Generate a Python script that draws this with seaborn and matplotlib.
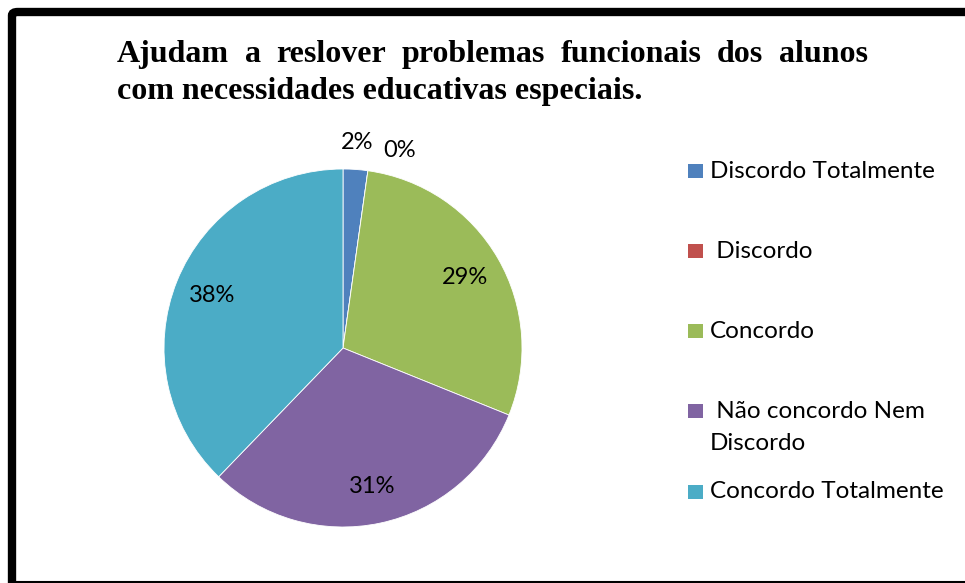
import matplotlib
matplotlib.use("Agg")
import matplotlib.pyplot as plt
import seaborn as sns
import numpy as np
from matplotlib.patches import Rectangle, FancyBboxPatch

# ---- data ----
categories = ["Discordo Totalmente", " Discordo", "Concordo",
              " Não concordo Nem\nDiscordo", "Concordo Totalmente"]
counts = [1, 0, 13, 14, 17]
colors = ["#4F81BD", "#C0504D", "#9BBB59", "#8064A2", "#4BACC6"]
title_line1 = "Ajudam a reslover problemas funcionais dos alunos"
title_line2 = "com necessidades educativas especiais."

sns.set_theme(style="white")
plt.rcParams["font.family"] = ["Lato", "DejaVu Sans"]

W, H, DPI = 965, 583, 100
fig = plt.figure(figsize=(W / DPI, H / DPI), dpi=DPI)
fig.patch.set_facecolor("white")

def fx(px):
    return px / W

def fy(py):
    return 1 - py / H

# ---- outer frame (thick left/top, thin bottom) ----
frame = FancyBboxPatch((fx(12), fy(700)), fx(1200), (700 - 12) / H,
                       boxstyle="round,pad=0,rounding_size=0.006",
                       transform=fig.transFigure, fill=False,
                       edgecolor="black", linewidth=6, clip_on=True)
fig.patches.append(frame)
fig.add_artist(plt.Line2D([fx(12), 1], [fy(582), fy(582)],
                          transform=fig.transFigure, color="black", lw=1.5))

# ---- pie ----
cx, cy, R = 343, 348, 179
ax = fig.add_axes([fx(cx - R), fy(cy + R), 2 * R / W, 2 * R / H])
wedges, texts, autotexts = ax.pie(
    counts, colors=colors, startangle=90, counterclock=False,
    autopct=lambda p: f"{p:.0f}%", pctdistance=0.79,
    wedgeprops=dict(edgecolor="white", linewidth=0.6),
    textprops=dict(fontsize=17, color="black"))
ax.set_xlim(-1, 1)
ax.set_ylim(-1, 1)
ax.set_aspect("auto")
ax.axis("off")

total = sum(counts)
cum = np.cumsum([0] + counts)
for i, t in enumerate(autotexts):
    frac = counts[i] / total
    if frac < 0.05:
        mid = (cum[i] + counts[i] / 2) / total * 360
        extra = 8 * i if counts[i] == 0 else 0
        ang = np.deg2rad(90 - mid - extra)
        r = 1.15
        t.set_position((r * np.cos(ang), r * np.sin(ang)))
        t.set_va("center")
        t.set_ha("center")

# ---- title (justified first line) ----
tfont = dict(family=["Liberation Serif", "DejaVu Serif"], weight="bold",
             fontsize=23, color="black")
fig.canvas.draw()
renderer = fig.canvas.get_renderer()
words = title_line1.split(" ")
x0, x1 = 117, 868
widths = []
tmp = []
for w in words:
    t = fig.text(0, 0, w, **tfont)
    bb = t.get_window_extent(renderer)
    widths.append(bb.width)
    tmp.append(t)
for t in tmp:
    t.remove()
gap = (x1 - x0 - sum(widths)) / (len(words) - 1)
x = x0
for w, wd in zip(words, widths):
    fig.text(fx(x), fy(62), w, ha="left", va="baseline", **tfont)
    x += wd + gap
fig.text(fx(x0), fy(99), title_line2, ha="left", va="baseline", **tfont)

# ---- legend ----
leg_y = [171, 251, 331, 411, 492]
for lab, col, yy in zip(categories, colors, leg_y):
    fig.patches.append(Rectangle((fx(688), fy(yy + 7)), fx(15), 14 / H,
                                 transform=fig.transFigure, facecolor=col,
                                 edgecolor="none"))
    for k, line in enumerate(lab.split("\n")):
        fig.text(fx(710), fy(yy + 32 * k), line, ha="left", va="center",
                 fontsize=17.5, color="black")

fig.savefig("out.png", dpi=DPI, facecolor="white")
